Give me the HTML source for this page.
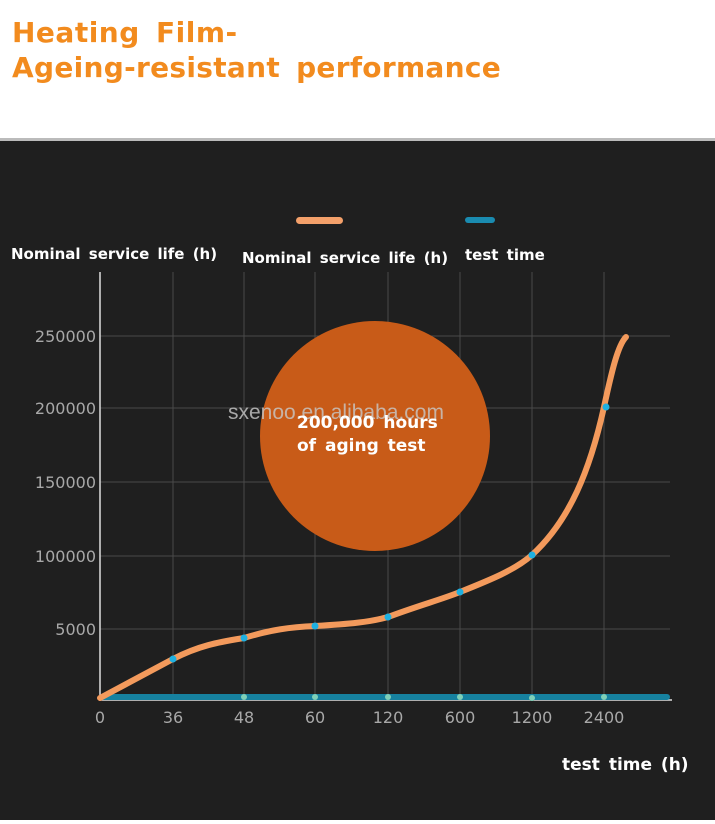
<!DOCTYPE html>
<html><head><style>
body{margin:0;width:715px;height:820px;background:#fff;overflow:hidden;font-family:"DejaVu Sans","Liberation Sans",sans-serif}
</style></head><body>
<svg width="715" height="820" xmlns="http://www.w3.org/2000/svg">
<text x="12" y="42" font-family="DejaVu Sans" font-weight="bold" font-size="28" fill="#f28b1e" letter-spacing="0.5" word-spacing="6">Heating Film-</text>
<text x="12" y="77" font-family="DejaVu Sans" font-weight="bold" font-size="28" fill="#f28b1e" letter-spacing="0.3" word-spacing="6">Ageing-resistant performance</text>
<rect x="0" y="140" width="715" height="680" fill="#1f1f1f"/>
<rect x="0" y="138" width="715" height="3" fill="#bbb"/>
<rect x="296" y="217" width="47" height="7" rx="3.5" fill="#f3a06a"/>
<rect x="465" y="217" width="30" height="6" rx="3" fill="#1a8bb0"/>
<g font-family="DejaVu Sans" font-weight="bold" font-size="15" fill="#fff" word-spacing="3">
<text x="11" y="259">Nominal service life (h)</text>
<text x="242" y="263">Nominal service life (h)</text>
<text x="465" y="260">test time</text>
<text x="562" y="770" font-size="17">test time (h)</text>
</g>
<g stroke="#4a4a4a" stroke-width="1">
<line x1="100" y1="336" x2="670" y2="336"/><line x1="100" y1="408" x2="670" y2="408"/>
<line x1="100" y1="482" x2="670" y2="482"/><line x1="100" y1="556" x2="670" y2="556"/>
<line x1="100" y1="629" x2="670" y2="629"/>
<line x1="173" y1="272" x2="173" y2="700"/><line x1="244" y1="272" x2="244" y2="700"/>
<line x1="315" y1="272" x2="315" y2="700"/><line x1="388" y1="272" x2="388" y2="700"/>
<line x1="460" y1="272" x2="460" y2="700"/><line x1="532" y1="272" x2="532" y2="700"/>
<line x1="604" y1="272" x2="604" y2="700"/>
</g>
<line x1="100" y1="272" x2="100" y2="701" stroke="#ddd" stroke-width="1.5"/>
<line x1="100" y1="700" x2="672" y2="700" stroke="#ddd" stroke-width="1.5"/>
<circle cx="375" cy="436" r="115" fill="#c85b18"/>
<text x="228" y="419" font-family="Liberation Sans" font-size="21" fill="#c9c9c9" opacity="0.8">sxenoo.en.alibaba.com</text>
<text x="297" y="428" font-family="DejaVu Sans" font-weight="bold" font-size="17" fill="#fff" word-spacing="3">200,000 hours</text>
<text x="297" y="451" font-family="DejaVu Sans" font-weight="bold" font-size="17" fill="#fff" word-spacing="3">of aging test</text>
<rect x="100" y="694" width="570" height="6" rx="3" fill="#16819f"/>
<path d="M100,698 L173,659 C200,645 220,642 244,638 C270,630 290,627 315,626 C350,624 370,622 388,617 C420,605 440,600 460,592 C490,580 515,570 532,555 C570,520 590,470 604,407 C612,370 618,345 626,337" fill="none" stroke="#f39a5c" stroke-width="6" stroke-linecap="round"/>
<g fill="#1fb0e0">
<circle cx="173" cy="659" r="3.5"/><circle cx="244" cy="638" r="3.5"/><circle cx="315" cy="626" r="3.5"/>
<circle cx="388" cy="617" r="3.5"/><circle cx="460" cy="592" r="3.5"/><circle cx="532" cy="555" r="3.5"/><circle cx="606" cy="407" r="3.5"/>
</g>
<g fill="#7fd0b8">
<circle cx="244" cy="697" r="3"/><circle cx="315" cy="697" r="3"/><circle cx="388" cy="697" r="3"/>
<circle cx="460" cy="697" r="3"/><circle cx="532" cy="698" r="3"/><circle cx="604" cy="697" r="3"/>
</g>
<g font-family="DejaVu Sans" font-size="16" fill="#a8a8a8">
<g text-anchor="end">
<text x="96" y="342">250000</text><text x="96" y="414">200000</text><text x="96" y="488">150000</text>
<text x="96" y="562">100000</text><text x="96" y="635">5000</text>
</g>
<g text-anchor="middle">
<text x="100" y="723">0</text><text x="173" y="723">36</text><text x="244" y="723">48</text>
<text x="315" y="723">60</text><text x="388" y="723">120</text><text x="460" y="723">600</text>
<text x="532" y="723">1200</text><text x="604" y="723">2400</text>
</g>
</g>
</svg>
</body></html>
